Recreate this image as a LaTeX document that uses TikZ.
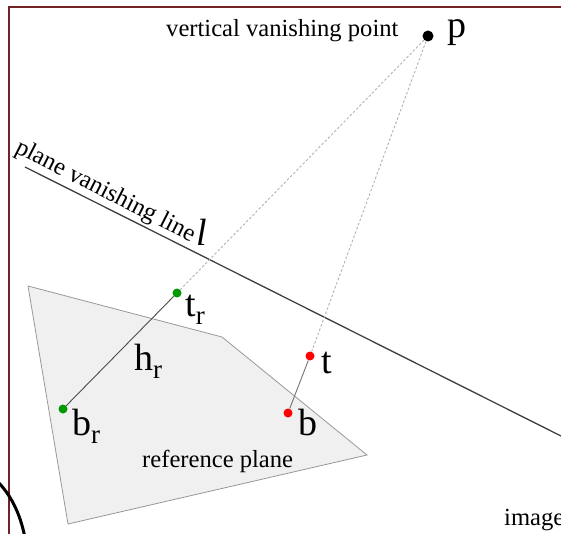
\documentclass[tikz,border=0pt]{standalone}
\usepackage{fontspec}
\setmainfont{Liberation Serif}
\newcommand\lblsub[2]{#1\raisebox{-8pt}{\fontsize{27}{27}\selectfont #2}}
\tikzset{
  txt/.style={inner sep=0pt, anchor=base west, font=\fontsize{24.6}{26}\selectfont},
  big/.style={inner sep=0pt, anchor=base west, font=\fontsize{38}{40}\selectfont},
  gdot/.style={circle, fill=green!60!black, minimum size=9pt, inner sep=0pt},
  rdot/.style={circle, fill=red, minimum size=9pt, inner sep=0pt},
  kdot/.style={circle, fill=black, minimum size=11pt, inner sep=0pt},
  proj/.style={draw=black!30, dash pattern=on 2.5pt off 2pt, line width=0.9pt},
}
\begin{document}
\begin{tikzpicture}[x=1pt,y=-1pt]
\useasboundingbox (0,0) rectangle (561,534);
\clip (0,0) rectangle (561,534);
\fill[white] (0,0) rectangle (561,534);
% frame
\draw[color={rgb,255:red,115;green,35;blue,35}, line width=2pt] (9,540) -- (9,7) -- (570,7);
% reference plane
\filldraw[fill=black!6, draw=black!40, line width=0.8pt] (28,286) -- (222,337) -- (367,455) -- (68,524) -- cycle;
% vanishing line
\coordinate (l1) at (25,167);
\coordinate (l2) at (561,436);
\draw[black!75, line width=1.3pt] (l1) -- (l2);
% points
\node[kdot] (p) at (428,36) {};
\node[gdot] (tr) at (177,293) {};
\node[gdot] (br) at (63,409) {};
\node[rdot] (t) at (310,356) {};
\node[rdot] (b) at (288,413) {};
\draw[proj] (p) -- (tr);
\draw[proj] (p) -- (t);
\draw[black!70, line width=0.9pt] (br) -- (tr);
\draw[black!55, line width=0.9pt] (b) -- (t);
% texts
\node[txt] (vvp) at (166,37) {vertical vanishing point};
\node[big] (plab) at (447,38) {p};
\node[txt, rotate=-27] (pvl) at (14,152) {plane vanishing line};
\node[big] (llab) at (196,246) {\itshape l};
\node[big] (trlab) at (185,316) {\lblsub{t}{r}};
\node[big] (hrlab) at (134,370) {\lblsub{h}{r}};
\node[big] (brlab) at (72,435) {\lblsub{b}{r}};
\node[big] (tlab) at (321,373) {t};
\node[big] (blab) at (298,435) {b};
\node[txt] (rp) at (142,467) {reference plane};
\node[txt] (img) at (504,525) {image};
% partial circle at bottom left
\draw[black, line width=3pt] (-3,481) .. controls (10,494) and (20,512) .. (25,538);
\end{tikzpicture}
\end{document}
